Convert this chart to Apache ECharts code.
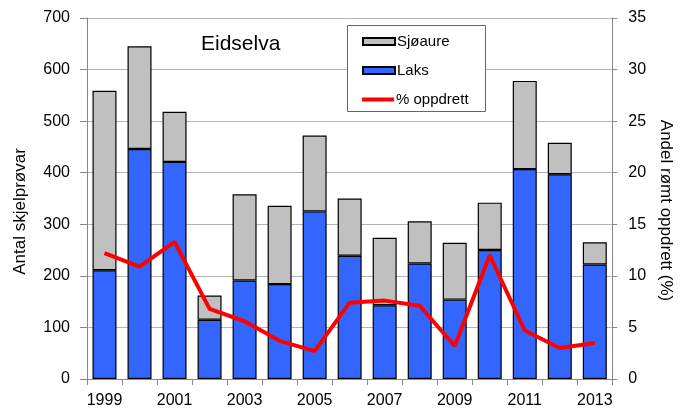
<!DOCTYPE html>
<html><head><meta charset="utf-8">
<script src="https://cdn.jsdelivr.net/npm/echarts@6/dist/echarts.min.js"></script>
<style>html,body{margin:0;padding:0;background:#fff}#c{width:682px;height:409px}</style>
</head><body><div id="c"></div>
<script>
const years = ['1999','2000','2001','2002','2003','2004','2005','2006','2007','2008','2009','2010','2011','2012','2013'];
const laks = [211,446,421,115,191,184,325,239,143,224,154,250,407,397,222];
const sjoaure = [348,199,97,47,167,152,147,111,131,82,110,92,171,61,43];
const oppdrett = [12.2,10.9,13.3,6.8,5.6,3.7,2.7,7.4,7.6,7.1,3.2,12.0,4.7,3.0,3.5];
const leftTicks = [0,100,200,300,400,500,600,700];
const rightTicks = [0,5,10,15,20,25,30,35];

const font = 'Liberation Sans, Arial, sans-serif';
const chart = echarts.init(document.getElementById('c'));
chart.setOption({
  animation:false,
  textStyle:{fontFamily:font},
  grid:{left:87,right:69,top:18,bottom:29},
  title:{text:'Eidselva',left:196,top:29,textStyle:{fontSize:21,fontWeight:'normal',color:'#000',fontFamily:font}},
  graphic:[{type:'rect',shape:{x:347.5,y:25.5,width:138,height:86},style:{fill:'#fff',stroke:'#666',lineWidth:1},z:1}],
  legend:[
    {orient:'vertical',left:362,top:34,padding:0,itemWidth:32,itemHeight:7,itemGap:14,z:5,
      textStyle:{fontSize:15,color:'#000',fontFamily:font,padding:[0,0,0,-3]},
      data:[{name:'Sjøaure',icon:'rect'},{name:'Laks',icon:'rect'}]},
    {orient:'vertical',left:362,top:92,padding:0,itemWidth:32,itemHeight:4,z:5,
      textStyle:{fontSize:15,color:'#000',fontFamily:font,padding:[0,0,0,-3]},
      data:[{name:'% oppdrett',icon:'rect',itemStyle:{color:'#ff0000',borderWidth:0}}]}
  ],
  xAxis:{type:'category',data:years,
    axisLine:{lineStyle:{color:'#888'}},
    axisTick:{show:true,interval:0,length:6,lineStyle:{color:'#888'}},
    axisLabel:{interval:1,fontSize:16,color:'#000',margin:14}},
  yAxis:[
    {type:'value',min:leftTicks[0],max:leftTicks[leftTicks.length-1],interval:100,
      name:'Antal skjelprøvar',nameLocation:'middle',nameGap:58,
      nameTextStyle:{fontSize:17,color:'#000',padding:[0,26,0,0]},
      axisLine:{show:true,lineStyle:{color:'#888'}},
      axisTick:{show:true,length:7,lineStyle:{color:'#888'}},
      axisLabel:{fontSize:16,color:'#000',margin:17},
      splitLine:{lineStyle:{color:'#b4b4b4'}}},
    {type:'value',min:rightTicks[0],max:rightTicks[rightTicks.length-1],interval:5,position:'right',
      name:'Andel rømt oppdrett (%)',nameLocation:'middle',nameGap:41,nameRotate:-90,
      nameTextStyle:{fontSize:17,color:'#000',padding:[0,0,0,24]},
      axisLine:{show:true,lineStyle:{color:'#888'}},
      axisTick:{show:true,length:5,lineStyle:{color:'#888'}},
      axisLabel:{fontSize:16,color:'#000',margin:16},
      splitLine:{show:false}}
  ],
  series:[
    {name:'Laks',type:'bar',stack:'a',data:laks,barWidth:24,
      itemStyle:{color:'#3366ff',borderColor:'#000',borderWidth:1.2}},
    {name:'Sjøaure',type:'bar',stack:'a',data:sjoaure,barWidth:24,
      itemStyle:{color:'#c0c0c0',borderColor:'#000',borderWidth:1.2}},
    {name:'% oppdrett',type:'line',yAxisIndex:1,data:oppdrett,symbol:'none',z:3,
      lineStyle:{color:'#ff0000',width:4},itemStyle:{color:'#ff0000'}}
  ]
});
</script></body></html>
